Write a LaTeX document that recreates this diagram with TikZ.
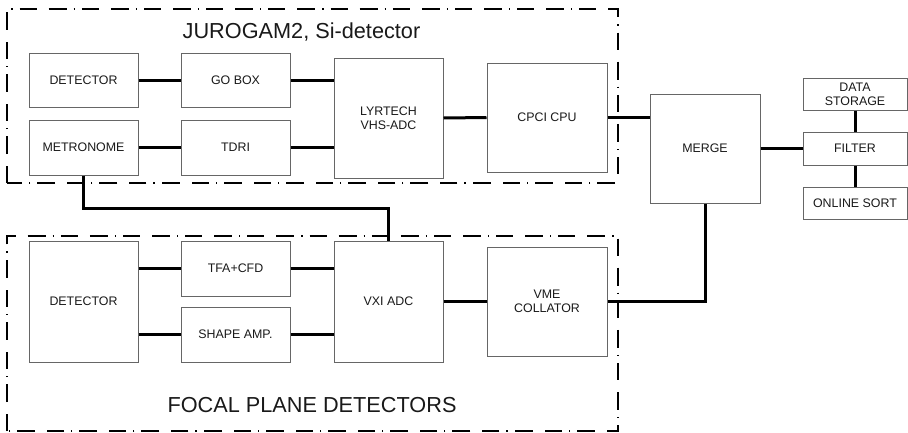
\documentclass[tikz,border=0pt]{standalone}
\usepackage{fontspec}
\setmainfont{Liberation Sans}
\tikzset{
  box/.style={draw=black!60, line width=1pt, rectangle, inner sep=0pt, align=center,
    font=\fontsize{12.4}{14}\selectfont, text=black!90},
  wire/.style={line width=3pt, black},
  frame/.style={line width=1.6pt, black, dash pattern=on 17pt off 12pt on 18pt off 7pt on 1.2pt off 7pt},
  title/.style={font=\fontsize{21.7}{24}\selectfont, anchor=base, inner sep=0pt, text=black!90}
}
\begin{document}
\begin{tikzpicture}[x=1pt,y=-1pt]
\useasboundingbox (0,0) rectangle (908,432);
% frames
\draw[frame] (7,183) -- (7,9) -- (618,9) -- (618,183) -- cycle;
\draw[frame] (7,431) -- (7,236) -- (618,236) -- (618,431) -- cycle;
\node[title] (t1) at (301.5,38) {JUROGAM2, Si-detector};
\node[title] (t2) at (312,412) {FOCAL PLANE DETECTORS};
% top boxes
\node[box, minimum width=109pt, minimum height=54pt] (det1) at (83.5,80) {DETECTOR};
\node[box, minimum width=109pt, minimum height=54pt] (gobox) at (235.5,80) {GO BOX};
\node[box, minimum width=109pt, minimum height=55pt] (met) at (83.5,147.5) {METRONOME};
\node[box, minimum width=109pt, minimum height=55pt] (tdri) at (235.5,147.5) {TDRI};
\node[box, minimum width=109pt, minimum height=120pt] (lyr) at (388.5,118) {LYRTECH\\VHS-ADC};
\node[box, minimum width=120pt, minimum height=109pt] (cpci) at (547,117.5) {CPCI CPU};
\node[box, minimum width=110pt, minimum height=109pt] (merge) at (705,148.5) {MERGE};
\node[box, minimum width=104pt, minimum height=32pt] (store) at (855,94) {DATA\\STORAGE};
\node[box, minimum width=104pt, minimum height=33pt] (filter) at (855,148.5) {FILTER};
\node[box, minimum width=104pt, minimum height=32pt] (sort) at (855,203) {ONLINE SORT};
% bottom boxes
\node[box, minimum width=109pt, minimum height=121pt] (det2) at (83.5,301.5) {DETECTOR};
\node[box, minimum width=109pt, minimum height=55pt] (tfa) at (235.5,268.5) {TFA+CFD};
\node[box, minimum width=109pt, minimum height=55pt] (shape) at (235.5,334.5) {SHAPE AMP.};
\node[box, minimum width=109pt, minimum height=121pt] (vxi) at (388.5,301.5) {VXI ADC};
\node[box, minimum width=120pt, minimum height=109pt] (vme) at (547,301.5) {VME\\COLLATOR};
% wires top
\draw[wire] (det1.east) -- (gobox.west);
\draw[wire] (gobox.east) -- (gobox.east -| lyr.west);
\draw[wire] (met.east) -- (tdri.west);
\draw[wire] (tdri.east) -- (tdri.east -| lyr.west);
\draw[wire] (lyr.east) -- (cpci.west);
\draw[wire] (cpci.east) -- (cpci.east -| merge.west);
\draw[wire] (merge.east) -- (filter.west);
\draw[wire] (store.south) -- (filter.north);
\draw[wire] (filter.south) -- (sort.north);
% wires bottom
\draw[wire] (tfa.west -| det2.east) -- (tfa.west);
\draw[wire] (tfa.east) -- (tfa.east -| vxi.west);
\draw[wire] (shape.west -| det2.east) -- (shape.west);
\draw[wire] (shape.east) -- (shape.east -| vxi.west);
\draw[wire] (vxi.east) -- (vme.west);
\draw[wire] (merge.south) |- (vme.east);
\coordinate (bend) at (83.5,208);
\draw[wire] (met.south) -- (bend) -| (vxi.north);
\end{tikzpicture}
\end{document}
